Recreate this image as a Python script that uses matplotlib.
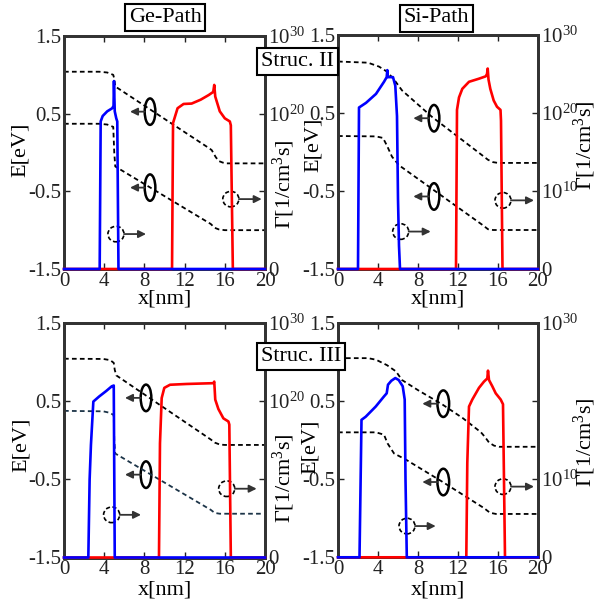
import numpy as np
import matplotlib
matplotlib.use('Agg')
import matplotlib.pyplot as plt
from matplotlib.patches import Ellipse
from matplotlib.ticker import NullLocator

plt.rcParams['font.family'] = ['Liberation Serif', 'DejaVu Serif']
plt.rcParams['mathtext.fontset'] = 'custom'
plt.rcParams['mathtext.rm'] = 'Liberation Serif'
plt.rcParams['mathtext.it'] = 'Liberation Serif:italic'

# ---------------- data ----------------
x_ticks = [0, 4, 8, 12, 16, 20]
e_ticks = [-1.5, -0.5, 0.5, 1.5]
e_tick_labels = ['-1.5', '-0.5', '0.5', '1.5']
g_ticks = [1, 1e10, 1e20, 1e30]
col_titles = ['Ge-Path', 'Si-Path']
row_titles = ['Struc. II', 'Struc. III']

# Top-left: Ge-Path, Struc. II
tl_ec_x = [0, 3.5, 4.3, 4.9, 5.0, 5.1, 14.5, 14.7, 15.1, 15.4, 15.8, 16.2, 20]
tl_ec_e = [1.04, 1.04, 1.03, 1.0, 0.95, 0.85, 0.05, 0.03, -0.06, -0.11, -0.13, -0.14, -0.14]
tl_ev_x = [0, 3.5, 4.3, 4.9, 5.0, 5.1, 14.6, 15.0, 15.4, 16.0, 20]
tl_ev_e = [0.37, 0.37, 0.36, 0.33, 0.0, -0.18, -0.92, -0.97, -0.99, -1.0, -1.0]
tl_blue_x = [0, 3.55, 3.65, 3.85, 4.3, 4.8, 4.93, 4.97, 5.05, 5.2, 5.3, 5.42, 20]
tl_blue_g = [0, 0, 19.0, 19.7, 20.3, 20.7, 21.0, 24.2, 20.3, 19.4, 19.0, 0, 0]
tl_red_x = [0, 10.75, 10.85, 11.3, 11.9, 12.7, 13.6, 14.4, 14.85, 14.95, 15.05, 15.5, 16.0, 16.5, 16.6, 16.8, 20]
tl_red_g = [0, 0, 18.8, 20.7, 21.25, 21.3, 21.8, 22.4, 22.8, 23.7, 22.2, 20.3, 19.4, 19.0, 18.5, 0, 0]

# Top-right: Si-Path, Struc. II
tr_ec_x = [0, 3.0, 4.1, 4.9, 5.6, 6.4, 9.4, 14.6, 15.0, 15.5, 16.0, 20]
tr_ec_e = [1.16, 1.145, 1.095, 1.03, 0.93, 0.79, 0.45, -0.06, -0.10, -0.13, -0.14, -0.14]
tr_ev_x = [0, 3.8, 4.5, 4.9, 5.4, 6.1, 14.5, 15.0, 15.5, 20]
tr_ev_e = [0.205, 0.2, 0.18, 0.08, -0.06, -0.17, -0.94, -0.99, -1.0, -1.0]
tr_blue_x = [0, 2.0, 2.1, 2.8, 3.8, 4.6, 4.87, 4.93, 4.98, 5.5, 5.73, 5.9, 6.0, 6.1, 6.2, 20]
tr_blue_g = [0, 0, 20.7, 21.3, 22.45, 24.0, 24.6, 25.5, 24.6, 24.6, 23.5, 19.6, 9.0, 3.0, 0, 0]
tr_red_x = [0, 11.8, 11.9, 12.1, 12.43, 13.1, 14.1, 14.77, 14.9, 14.97, 15.05, 15.23, 15.57, 15.9, 16.25, 16.3, 16.45, 20]
tr_red_g = [0, 0, 20.4, 22.0, 23.1, 24.0, 24.4, 24.7, 25.0, 25.7, 24.3, 23.1, 21.6, 20.8, 20.4, 19.0, 0, 0]

# Bottom-left: Ge-Path, Struc. III
bl_ec_x = [0, 3.9, 4.6, 4.95, 5.05, 5.2, 14.6, 15.0, 15.5, 16.0, 20]
bl_ec_e = [1.043, 1.04, 1.025, 0.99, 0.9, 0.83, 0.01, -0.03, -0.055, -0.06, -0.06]
bl_ev_x = [0, 3.9, 4.6, 4.95, 5.0, 5.1, 14.6, 15.0, 15.5, 20]
bl_ev_e = [0.376, 0.37, 0.35, 0.32, 0.0, -0.17, -0.89, -0.93, -0.94, -0.94]
bl_blue_x = [0, 2.42, 2.55, 2.68, 2.92, 3.5, 4.2, 4.75, 4.95, 5.05, 20]
bl_blue_g = [0, 0, 10.0, 14.4, 19.95, 20.6, 21.3, 21.9, 22.0, 0, 0]
bl_red_x = [0, 9.45, 9.55, 9.72, 9.98, 10.55, 12.2, 13.5, 14.86, 14.95, 15.05, 15.36, 15.86, 16.36, 16.45, 16.6, 20]
bl_red_g = [0, 0, 14.6, 20.4, 21.7, 22.1, 22.2, 22.25, 22.3, 22.5, 20.2, 19.0, 17.8, 17.4, 17.0, 0, 0]

# Bottom-right: Si-Path, Struc. III
br_ec_x = [0, 3.0, 3.8, 4.9, 5.8, 6.4, 8.0, 10.4, 12.5, 14.3, 14.7, 15.1, 15.6, 16.1, 20]
br_ec_e = [1.05, 1.05, 1.03, 0.96, 0.88, 0.77, 0.64, 0.46, 0.28, 0.10, 0.04, -0.03, -0.07, -0.085, -0.085]
br_ev_x = [0, 3.8, 4.6, 4.95, 5.6, 6.8, 10.4, 14.6, 15.2, 15.8, 20]
br_ev_e = [0.10, 0.10, 0.07, -0.04, -0.17, -0.25, -0.53, -0.87, -0.93, -0.945, -0.945]
br_blue_x = [0, 2.15, 2.35, 2.77, 3.77, 4.6, 4.87, 5.0, 5.33, 5.73, 6.07, 6.47, 6.67, 6.75, 6.88, 20]
br_blue_g = [0, 0, 17.6, 18.0, 19.3, 20.6, 21.0, 22.1, 22.6, 22.95, 22.7, 21.9, 20.2, 10.0, 0, 0]
br_red_x = [0, 12.83, 12.93, 13.1, 13.43, 14.1, 14.6, 14.93, 15.0, 15.1, 15.43, 15.77, 16.27, 16.5, 16.7, 20]
br_red_g = [0, 0, 12.1, 19.3, 20.2, 21.7, 22.5, 22.9, 23.9, 22.7, 21.9, 21.0, 20.2, 19.6, 0, 0]

# ---------------- layout / styles ----------------
W, H = 599, 603
fig = plt.figure(figsize=(W / 100, H / 100), dpi=100)

def rect(l, r, t, b):
    return [l / W, 1 - b / H, (r - l) / W, (b - t) / H]

SPINE = '#333333'
TICK_FS = 15
LAB_FS = 16

panels = [
    dict(rect=rect(64, 265, 36, 269),
         ec=(tl_ec_x, tl_ec_e), ev=(tl_ev_x, tl_ev_e), evc='black',
         blue=(tl_blue_x, tl_blue_g), red=(tl_red_x, tl_red_g),
         glabels=['0', '', '$10^{20}$', '$10^{30}$'],
         elx=8.56, ely=[0.526, -0.452], elend=6.57, elw=1.06,
         circ=[(5.17, -1.05, 8.16), (16.6, -0.6, 19.67)],
         ylab=(-0.169, 0.51), glab=(1.03, 0.365), xlab=-0.086),
    dict(rect=rect(338, 538, 35, 269),
         ec=(tr_ec_x, tr_ec_e), ev=(tr_ev_x, tr_ev_e), evc='black',
         blue=(tr_blue_x, tr_blue_g), red=(tr_red_x, tr_red_g),
         glabels=['0', '$10^{10}$', '$10^{20}$', '$10^{30}$'],
         elx=9.6, ely=[0.433, -0.57], elend=7.53, elw=1.07,
         circ=[(6.27, -1.02, 9.27), (16.5, -0.62, 19.6)],
         ylab=(-0.075, 0.53), glab=(1.17, 0.53), xlab=-0.086),
    dict(rect=rect(64, 265, 323, 557.5),
         ec=(bl_ec_x, bl_ec_e), ev=(bl_ev_x, bl_ev_e), evc='#1c3448',
         blue=(bl_blue_x, bl_blue_g), red=(bl_red_x, bl_red_g),
         glabels=['0', '', '$10^{20}$', '$10^{30}$'],
         elx=8.16, ely=[0.542, -0.44], elend=6.07, elw=1.06,
         circ=[(4.74, -0.954, 7.66), (16.19, -0.62, 19.17)],
         ylab=(-0.164, 0.48), glab=(1.03, 0.34), xlab=-0.10),
    dict(rect=rect(338, 538, 323, 557.3),
         ec=(br_ec_x, br_ec_e), ev=(br_ev_x, br_ev_e), evc='black',
         blue=(br_blue_x, br_blue_g), red=(br_red_x, br_red_g),
         glabels=['0', '$10^{10}$', '', '$10^{30}$'],
         elx=10.53, ely=[0.467, -0.536], elend=8.43, elw=1.17,
         circ=[(6.9, -1.1, 9.77), (16.5, -0.595, 19.6)],
         ylab=(-0.09, 0.47), glab=(1.17, 0.49), xlab=-0.10),
]

for p in panels:
    ax = fig.add_axes(p['rect'])
    ax2 = ax.twinx()
    ax.set_xlim(0, 20)
    ax.set_ylim(-1.5, 1.5)
    ax2.set_yscale('log')
    ax2.set_ylim(1, 1e30)

    # band edges
    ax.plot(p['ec'][0], p['ec'][1], color='black', lw=1.3, ls=(0, (2.6, 1.8)))
    ax.plot(p['ev'][0], p['ev'][1], color=p['evc'], lw=1.3, ls=(0, (2.6, 1.8)))

    # generation rates (log axis)
    ax2.plot(p['red'][0], 10.0 ** np.array(p['red'][1]), color='#ff0000', lw=1.9,
             zorder=3, clip_on=False)
    ax2.plot(p['blue'][0], 10.0 ** np.array(p['blue'][1]), color='#0000ff', lw=1.9,
             zorder=4, clip_on=False)

    # annotations: solid ellipses -> left axis
    for ey in p['ely']:
        ax.add_patch(Ellipse((p['elx'], ey), width=p['elw'], height=0.34,
                             fill=False, ec='black', lw=1.8))
        ax.annotate('', xy=(p['elend'], ey), xytext=(p['elx'] - p['elw'] / 2, ey),
                    arrowprops=dict(arrowstyle='-|>', color='#333333', lw=1.3,
                                    mutation_scale=11, shrinkA=0, shrinkB=0))
    # dashed circles -> right axis
    for cx, cy, xe in p['circ']:
        ax.add_patch(Ellipse((cx, cy), width=1.6, height=0.2, fill=False,
                             ec='black', lw=1.2, ls=(0, (2.5, 1.5))))
        ax.annotate('', xy=(xe, cy), xytext=(cx + 0.8, cy),
                    arrowprops=dict(arrowstyle='-|>', color='#333333', lw=1.3,
                                    mutation_scale=11, shrinkA=0, shrinkB=0))

    # ticks
    ax.set_xticks(x_ticks)
    ax.set_xticklabels([str(t) for t in x_ticks])
    ax.set_yticks(e_ticks)
    ax.set_yticklabels(e_tick_labels)
    ax.tick_params(direction='in', length=4, width=1, top=True, right=False,
                   labelsize=TICK_FS, pad=2, colors='#222222')
    ax2.set_yticks(g_ticks)
    ax2.set_yticklabels(p['glabels'])
    ax2.yaxis.set_minor_locator(NullLocator())
    ax2.tick_params(direction='in', length=4, width=1, labelsize=TICK_FS, pad=2,
                    colors='#222222')

    for a in (ax, ax2):
        for s in a.spines.values():
            s.set_color(SPINE)
            s.set_linewidth(2.0)

    ax.set_xlabel('x[nm]', fontsize=LAB_FS)
    ax.xaxis.set_label_coords(0.5, p['xlab'])
    ax.set_ylabel('E[eV]', fontsize=LAB_FS)
    ax.yaxis.set_label_coords(*p['ylab'])
    ax2.set_ylabel('\u0393[1/cm$^3$s]', fontsize=LAB_FS)
    ax2.yaxis.set_label_coords(*p['glab'])

box = dict(boxstyle='square,pad=0.18', fc='white', ec='black', lw=1.5)
fig.text(165 / W, 1 - 17.5 / H, col_titles[0], ha='center', va='center', fontsize=LAB_FS, bbox=box, zorder=10)
fig.text(436.5 / W, 1 - 18 / H, col_titles[1], ha='center', va='center', fontsize=LAB_FS, bbox=box, zorder=10)
fig.text(297.5 / W, 1 - 61 / H, row_titles[0], ha='center', va='center', fontsize=LAB_FS, bbox=box, zorder=10)
fig.text(301 / W, 1 - 356.5 / H, row_titles[1], ha='center', va='center', fontsize=LAB_FS, bbox=box, zorder=10)

fig.savefig('out.png', dpi=100)
